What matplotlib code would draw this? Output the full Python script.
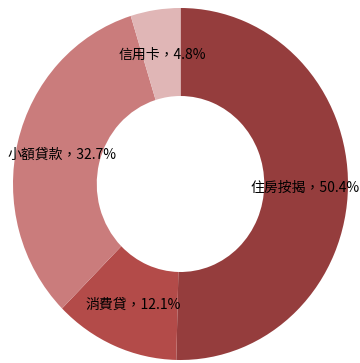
import matplotlib
matplotlib.use("Agg")
import matplotlib.pyplot as plt

plt.rcParams["font.family"] = ["Noto Sans CJK TC", "DejaVu Sans"]

# loan balance mix, clockwise from 12 o'clock
categories = ["住房按揭", "消費貸", "小額貸款", "信用卡"]
shares = [50.4, 12.1, 32.7, 4.8]
colors = ["#953D3D", "#B34B49", "#CA7C7C", "#E0B6B6"]

# label anchor points in data coords (axes spans -1..1 on both axes)
label_xy = [(0.745, -0.02), (-0.284, -0.688), (-0.707, 0.165), (-0.11, 0.733)]

fig = plt.figure(figsize=(3.60, 3.63), dpi=100)
ax = fig.add_axes([13 / 360, 3 / 363, 335 / 360, 352 / 363])

ax.pie(
    shares,
    colors=colors,
    startangle=90,
    counterclock=False,
    radius=1.0,
    wedgeprops=dict(width=0.5, edgecolor="none"),
)
# let the ring fill the axes box (slightly taller than wide)
ax.set_aspect("auto")
ax.set_xlim(-1, 1)
ax.set_ylim(-1, 1)
ax.axis("off")

for name, val, (x, y) in zip(categories, shares, label_xy):
    ax.text(x, y, f"{name}，{val:.1f}%", ha="center", va="center",
            fontsize=10, fontweight="medium", color="black")

fig.savefig("out.png", dpi=100, facecolor="white")
